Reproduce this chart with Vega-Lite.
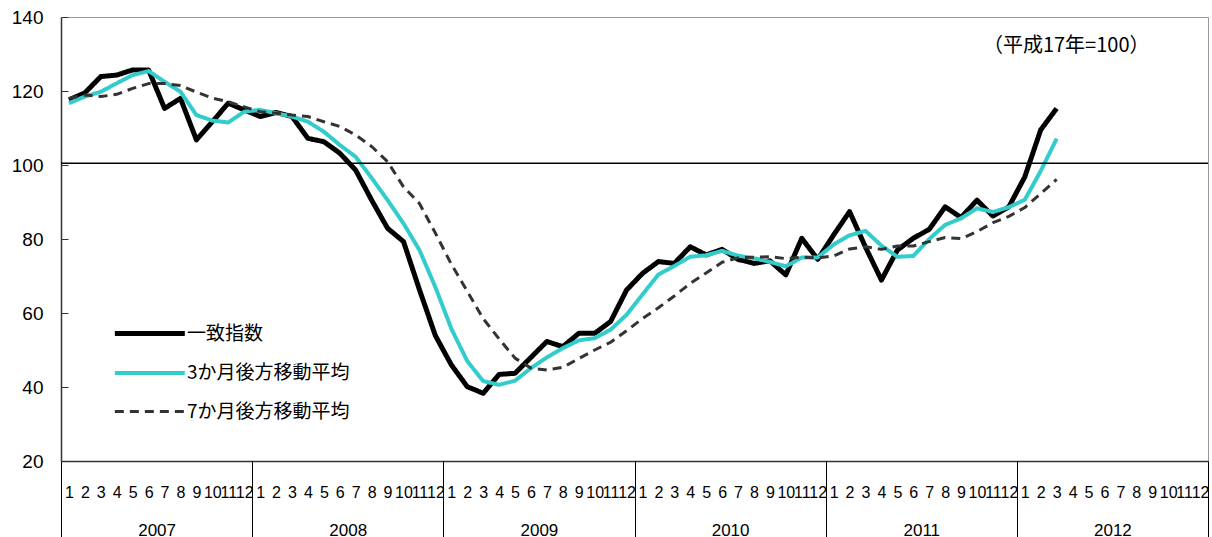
{
  "$schema": "https://vega.github.io/schema/vega-lite/v6.json",
  "width": 1147,
  "height": 444,
  "autosize": {"type": "none"},
  "padding": {"left": 61, "top": 17, "right": 4, "bottom": 76},
  "background": "white",
  "view": {"stroke": "#999999", "strokeWidth": 1},
  "config": {"font": "Liberation Sans"},
  "datasets": {
    "main": [
      {"t": 0.5, "一致指数": 117.6, "3か月後方移動平均": 116.7, "7か月後方移動平均": 118.0},
      {"t": 1.5, "一致指数": 119.5, "3か月後方移動平均": 118.5, "7か月後方移動平均": 118.9},
      {"t": 2.5, "一致指数": 123.9, "3か月後方移動平均": 119.8, "7か月後方移動平均": 118.5},
      {"t": 3.5, "一致指数": 124.3, "3か月後方移動平均": 122.1, "7か月後方移動平均": 119.1},
      {"t": 4.5, "一致指数": 125.7, "3か月後方移動平均": 124.3, "7か月後方移動平均": 120.7},
      {"t": 5.5, "一致指数": 125.7, "3か月後方移動平均": 125.4, "7か月後方移動平均": 122.0},
      {"t": 6.5, "一致指数": 115.3, "3か月後方移動平均": 122.5, "7か月後方移動平均": 122.0},
      {"t": 7.5, "一致指数": 118.0, "3か月後方移動平均": 119.8, "7か月後方移動平均": 121.5},
      {"t": 8.5, "一致指数": 106.8, "3か月後方移動平均": 113.5, "7か月後方移動平均": 119.7},
      {"t": 9.5, "一致指数": 111.7, "3か月後方移動平均": 112.0, "7か月後方移動平均": 118.1},
      {"t": 10.5, "一致指数": 116.7, "3か月後方移動平均": 111.5, "7か月後方移動平均": 117.1},
      {"t": 11.5, "一致指数": 114.9, "3か月後方移動平均": 114.4, "7か月後方移動平均": 115.7},
      {"t": 12.5, "一致指数": 113.1, "3か月後方移動平均": 114.9, "7か月後方移動平均": 114.4},
      {"t": 13.5, "一致指数": 114.2, "3か月後方移動平均": 114.0, "7か月後方移動平均": 114.0},
      {"t": 14.5, "一致指数": 113.1, "3か月後方移動平均": 113.1, "7か月後方移動平均": 113.5},
      {"t": 15.5, "一致指数": 107.2, "3か月後方移動平均": 111.7, "7か月後方移動平均": 113.1},
      {"t": 16.5, "一致指数": 106.3, "3か月後方移動平均": 109.0, "7か月後方移動平均": 111.7},
      {"t": 17.5, "一致指数": 103.2, "3か月後方移動平均": 105.4, "7か月後方移動平均": 110.4},
      {"t": 18.5, "一致指数": 98.6, "3か月後方移動平均": 102.2, "7か月後方移動平均": 108.1},
      {"t": 19.5, "一致指数": 90.5, "3か月後方移動平均": 96.5, "7か月後方移動平均": 105.0},
      {"t": 20.5, "一致指数": 82.9, "3か月後方移動平均": 90.5, "7か月後方移動平均": 100.9},
      {"t": 21.5, "一致指数": 79.3, "3か月後方移動平均": 84.2, "7か月後方移動平均": 94.1},
      {"t": 22.5, "一致指数": 66.3, "3か月後方移動平均": 77.0, "7か月後方移動平均": 89.6},
      {"t": 23.5, "一致指数": 53.9, "3か月後方移動平均": 67.0, "7か月後方移動平均": 81.6},
      {"t": 24.5, "一致指数": 46.0, "3か月後方移動平均": 55.8, "7か月後方移動平均": 73.2},
      {"t": 25.5, "一致指数": 40.1, "3か月後方移動平均": 47.0, "7か月後方移動平均": 65.9},
      {"t": 26.5, "一致指数": 38.3, "3か月後方移動平均": 41.6, "7か月後方移動平均": 58.5},
      {"t": 27.5, "一致指数": 43.4, "3か月後方移動平均": 40.6, "7か月後方移動平均": 53.0},
      {"t": 28.5, "一致指数": 43.7, "3か月後方移動平均": 41.7, "7か月後方移動平均": 47.8},
      {"t": 29.5, "一致指数": 48.0, "3か月後方移動平均": 45.1, "7か月後方移動平均": 45.1},
      {"t": 30.5, "一致指数": 52.3, "3か月後方移動平均": 48.0, "7か月後方移動平均": 44.6},
      {"t": 31.5, "一致指数": 50.9, "3か月後方移動平均": 50.5, "7か月後方移動平均": 45.3},
      {"t": 32.5, "一致指数": 54.5, "3か月後方移動平均": 52.6, "7か月後方移動平均": 47.7},
      {"t": 33.5, "一致指数": 54.5, "3か月後方移動平均": 53.2, "7か月後方移動平均": 50.0},
      {"t": 34.5, "一致指数": 57.7, "3か月後方移動平均": 55.5, "7か月後方移動平均": 52.1},
      {"t": 35.5, "一致指数": 66.2, "3か月後方移動平均": 59.5, "7か月後方移動平均": 55.2},
      {"t": 36.5, "一致指数": 70.7, "3か月後方移動平均": 65.0, "7か月後方移動平均": 58.5},
      {"t": 37.5, "一致指数": 73.9, "3か月後方移動平均": 70.4, "7か月後方移動平均": 61.4},
      {"t": 38.5, "一致指数": 73.4, "3か月後方移動平均": 72.7, "7か月後方移動平均": 64.6},
      {"t": 39.5, "一致指数": 77.9, "3か月後方移動平均": 75.2, "7か月後方移動平均": 68.0},
      {"t": 40.5, "一致指数": 75.7, "3か月後方移動平均": 75.6, "7か月後方移動平均": 70.8},
      {"t": 41.5, "一致指数": 77.2, "3か月後方移動平均": 76.8, "7か月後方移動平均": 73.7},
      {"t": 42.5, "一致指数": 74.5, "3か月後方移動平均": 75.5, "7か月後方移動平均": 74.9},
      {"t": 43.5, "一致指数": 73.4, "3か月後方移動平均": 74.8, "7か月後方移動平均": 75.1},
      {"t": 44.5, "一致指数": 74.1, "3か月後方移動平均": 73.8, "7か月後方移動平均": 75.2},
      {"t": 45.5, "一致指数": 70.3, "3か月後方移動平均": 72.6, "7か月後方移動平均": 74.7},
      {"t": 46.5, "一致指数": 80.2, "3か月後方移動平均": 75.0, "7か月後方移動平均": 75.1},
      {"t": 47.5, "一致指数": 74.5, "3か月後方移動平均": 75.0, "7か月後方移動平均": 74.9},
      {"t": 48.5, "一致指数": 81.1, "3か月後方移動平均": 78.5, "7か月後方移動平均": 75.4},
      {"t": 49.5, "一致指数": 87.4, "3か月後方移動平均": 81.0, "7か月後方移動平均": 77.3},
      {"t": 50.5, "一致指数": 77.8, "3か月後方移動平均": 82.2, "7か月後方移動平均": 77.9},
      {"t": 51.5, "一致指数": 68.9, "3か月後方移動平均": 78.2, "7か月後方移動平均": 77.2},
      {"t": 52.5, "一致指数": 77.0, "3か月後方移動平均": 75.2, "7か月後方移動平均": 78.1},
      {"t": 53.5, "一致指数": 80.2, "3か月後方移動平均": 75.4, "7か月後方移動平均": 78.1},
      {"t": 54.5, "一致指数": 82.6, "3か月後方移動平均": 80.0, "7か月後方移動平均": 79.3},
      {"t": 55.5, "一致指数": 88.7, "3か月後方移動平均": 83.8, "7か月後方移動平均": 80.4},
      {"t": 56.5, "一致指数": 85.8, "3か月後方移動平均": 85.6, "7か月後方移動平均": 80.1},
      {"t": 57.5, "一致指数": 90.5, "3か月後方移動平均": 88.3, "7か月後方移動平均": 82.0},
      {"t": 58.5, "一致指数": 86.2, "3か月後方移動平均": 87.3, "7か月後方移動平均": 84.4},
      {"t": 59.5, "一致指数": 88.7, "3か月後方移動平均": 88.6, "7か月後方移動平均": 86.1},
      {"t": 60.5, "一致指数": 96.8, "3か月後方移動平均": 90.6, "7か月後方移動平均": 88.5},
      {"t": 61.5, "一致指数": 109.5, "3か月後方移動平均": 98.4, "7か月後方移動平均": 92.3},
      {"t": 62.5, "一致指数": 115.3, "3か月後方移動平均": 107.1, "7か月後方移動平均": 96.1}
    ],
    "ref": [{"v": 100.5, "t0": 0, "t1": 72}],
    "note": [{"label": "（平成17年=100）", "t": 63.1, "y": 132.2}]
  },
  "layer": [
    {
      "data": {"name": "main"},
      "transform": [
        {"fold": ["一致指数", "3か月後方移動平均", "7か月後方移動平均"], "as": ["series", "value"]}
      ],
      "mark": {"type": "line", "strokeJoin": "round", "strokeCap": "butt", "clip": true},
      "encoding": {
        "x": {
          "field": "t", "type": "quantitative",
          "scale": {"domain": [0, 72], "nice": false, "zero": false},
          "axis": {
            "orient": "bottom", "title": null, "grid": false,
            "values": [0.5,1.5,2.5,3.5,4.5,5.5,6.5,7.5,8.5,9.5,10.5,11.5,12.5,13.5,14.5,15.5,16.5,17.5,18.5,19.5,20.5,21.5,22.5,23.5,24.5,25.5,26.5,27.5,28.5,29.5,30.5,31.5,32.5,33.5,34.5,35.5,36.5,37.5,38.5,39.5,40.5,41.5,42.5,43.5,44.5,45.5,46.5,47.5,48.5,49.5,50.5,51.5,52.5,53.5,54.5,55.5,56.5,57.5,58.5,59.5,60.5,61.5,62.5,63.5,64.5,65.5,66.5,67.5,68.5,69.5,70.5,71.5],
            "labelExpr": "'' + (floor(datum.value) % 12 + 1)",
            "ticks": false, "domain": true, "domainColor": "#333333", "domainWidth": 1.5,
            "labelFontSize": 16, "labelColor": "#000000", "labelPadding": 23,
            "labelOverlap": false, "labelFlush": false, "labelBound": false
          }
        },
        "y": {
          "field": "value", "type": "quantitative",
          "scale": {"domain": [20, 140], "nice": false, "zero": false},
          "axis": {
            "title": null, "grid": false, "values": [20, 40, 60, 80, 100, 120, 140],
            "domainColor": "#333333", "domainWidth": 1.5,
            "tickColor": "#333333", "tickSize": -7, "tickWidth": 1,
            "labelFontSize": 19, "labelColor": "#000000", "labelPadding": 25
          }
        },
        "color": {
          "field": "series", "type": "nominal",
          "scale": {"domain": ["一致指数", "3か月後方移動平均", "7か月後方移動平均"], "range": ["#000000", "#33CCCC", "#333333"]},
          "legend": {
            "title": null, "orient": "none", "legendX": 51, "legendY": 302,
            "symbolType": "M-1,0H5", "symbolSize": 544,
            "labelFont": "Noto Sans CJK JP", "labelFontSize": 19, "labelColor": "#000000",
            "labelOffset": 46, "rowPadding": 15, "labelLimit": 400
          }
        },
        "strokeDash": {
          "field": "series", "type": "nominal",
          "scale": {"domain": ["一致指数", "3か月後方移動平均", "7か月後方移動平均"], "range": [[1, 0], [1, 0], [9, 6]]}
        },
        "strokeWidth": {
          "field": "series", "type": "nominal",
          "scale": {"domain": ["一致指数", "3か月後方移動平均", "7か月後方移動平均"], "range": [5, 3, 1.6]}
        }
      }
    },
    {
      "data": {"name": "ref"},
      "mark": {"type": "rule", "color": "#000000", "strokeWidth": 1.5},
      "encoding": {
        "x": {
          "field": "t0", "type": "quantitative",
          "axis": {
            "orient": "bottom", "title": null, "grid": false,
            "values": [0, 12, 24, 36, 48, 60, 72],
            "labels": false, "domain": false, "ticks": true,
            "tickSize": 76, "tickColor": "#000000", "tickWidth": 1
          }
        },
        "x2": {"field": "t1"},
        "y": {"field": "v", "type": "quantitative"}
      }
    },
    {
      "data": {"name": "note"},
      "mark": {"type": "text", "font": "Noto Sans CJK JP", "fontSize": 20, "color": "#000000", "align": "center", "baseline": "middle"},
      "encoding": {
        "x": {
          "field": "t", "type": "quantitative",
          "axis": {
            "orient": "bottom", "title": null, "grid": false,
            "values": [6, 18, 30, 42, 54, 66],
            "labelExpr": "'' + (2007 + floor(datum.value / 12))",
            "labels": true, "domain": false, "ticks": false,
            "labelFontSize": 17, "labelColor": "#000000", "labelPadding": 61
          }
        },
        "y": {"field": "y", "type": "quantitative"},
        "text": {"field": "label"}
      }
    }
  ],
  "resolve": {"axis": {"x": "independent"}}
}
